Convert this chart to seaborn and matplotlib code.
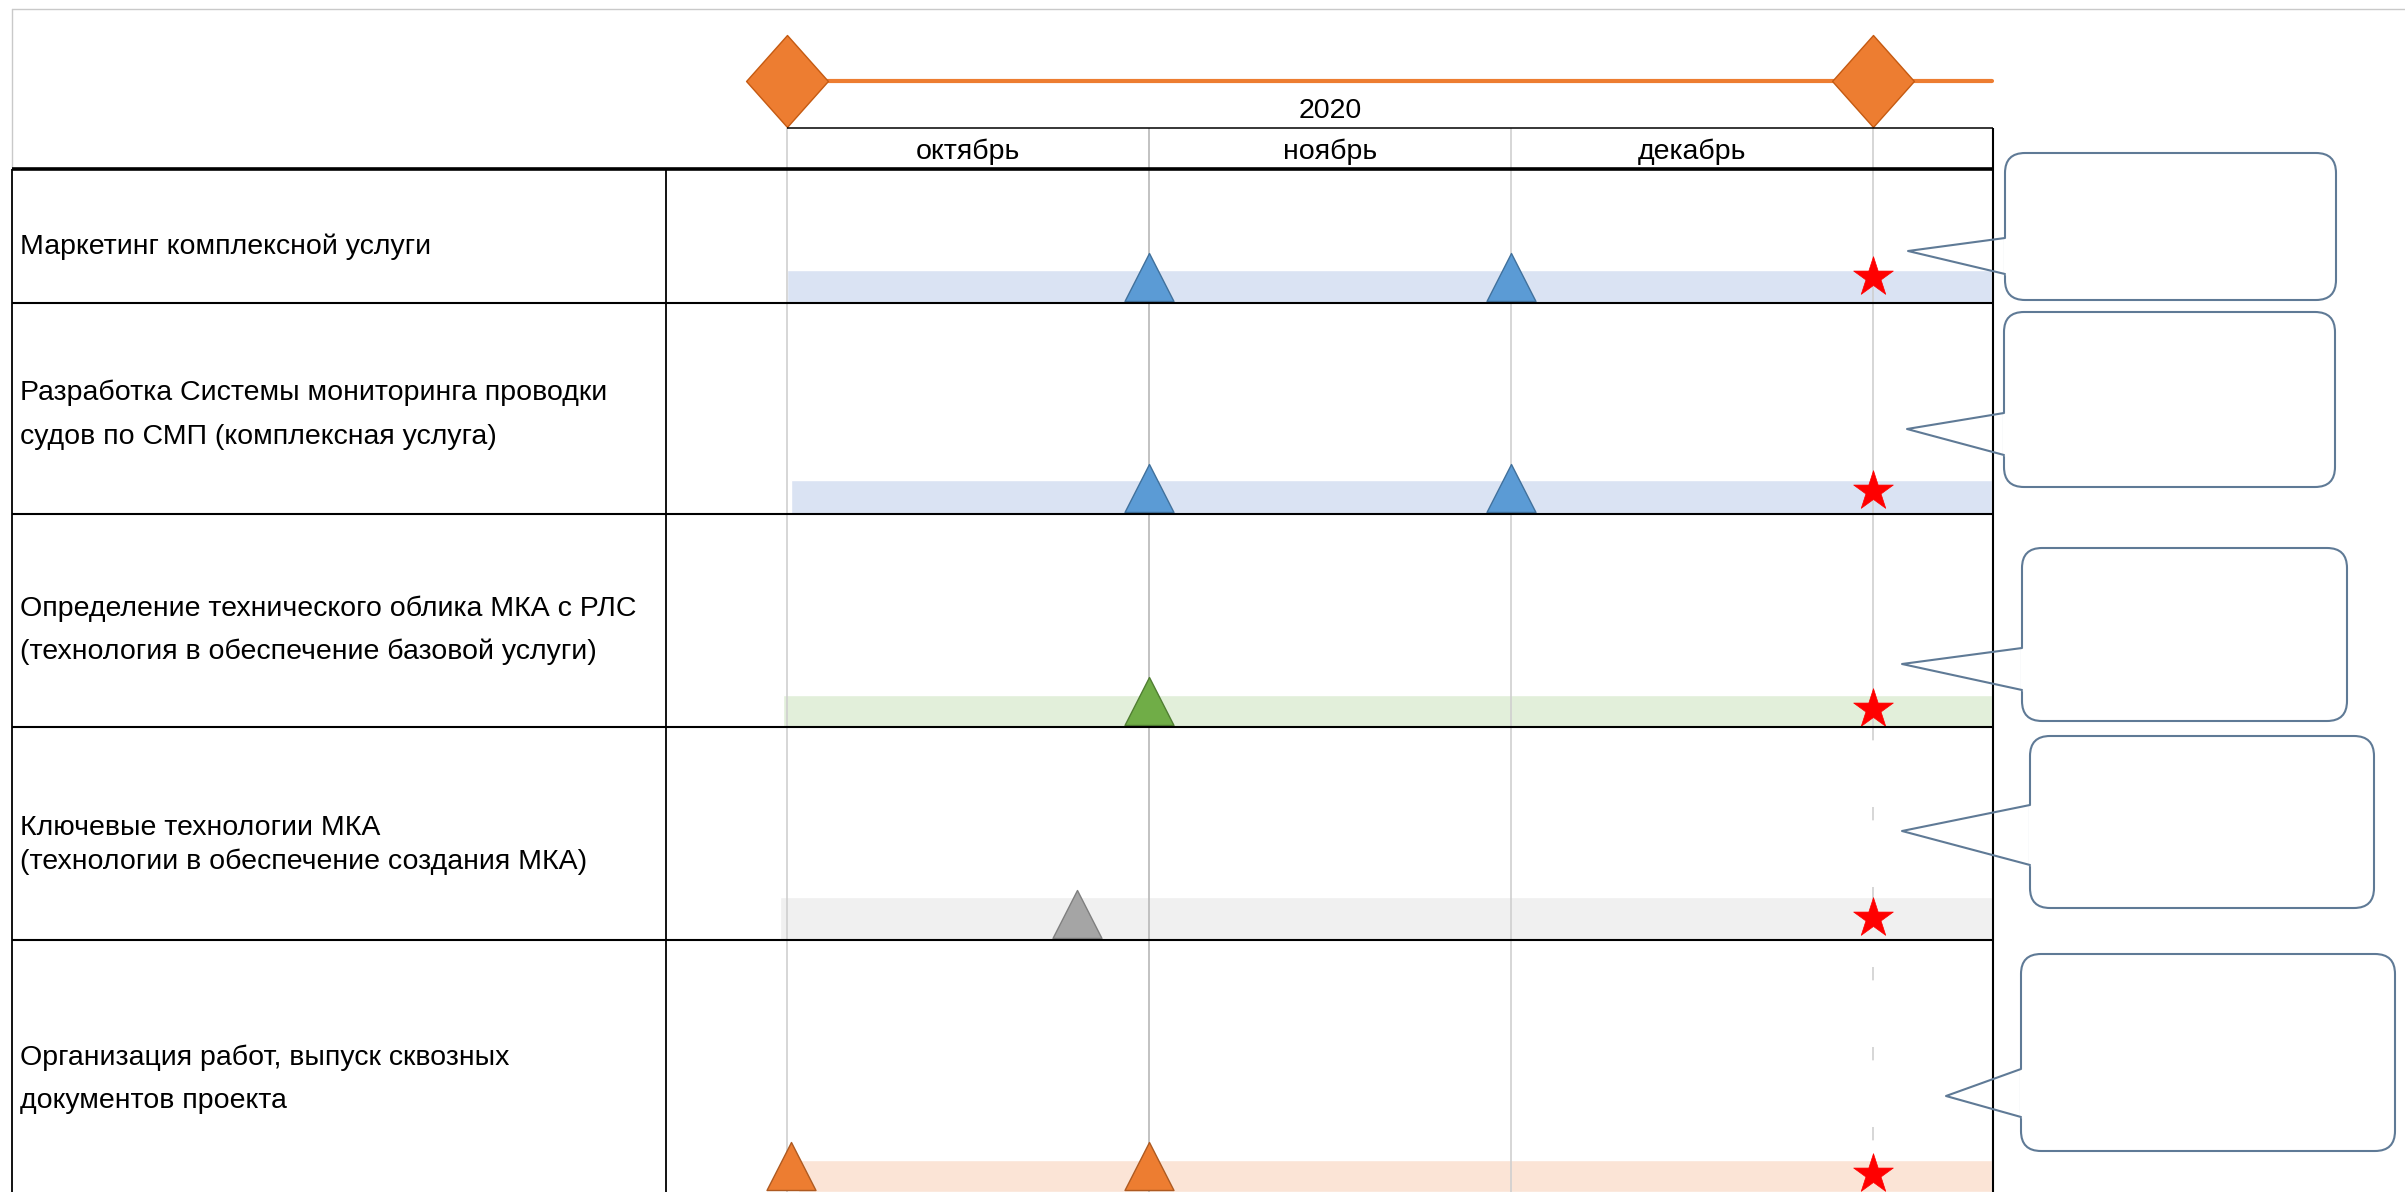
import numpy as np
import pandas as pd
import seaborn as sns
import matplotlib.pyplot as plt
from matplotlib.path import Path
from matplotlib.patches import FancyBboxPatch

# ---- данные графика (время в месяцах от 1 октября 2020) ----
year_label = "2020"
month_names = ["октябрь", "ноябрь", "декабрь"]
month_starts = [0, 1, 2, 3]

task_lines = [
    ["Маркетинг комплексной услуги"],
    ["Разработка Системы мониторинга проводки", "судов по СМП (комплексная услуга)"],
    ["Определение технического облика МКА с РЛС", "(технология в обеспечение базовой услуги)"],
    ["Ключевые технологии МКА", "(технологии в обеспечение создания МКА)"],
    ["Организация работ, выпуск сквозных", "документов проекта"],
]
bar_start = [0.0, 0.01, -0.01, -0.02, 0.03]
bar_end = [3.33, 3.33, 3.33, 3.33, 3.33]
milestone_task = [0, 0, 1, 1, 2, 3, 4, 4]
milestone_month = [1.0, 2.0, 1.0, 2.0, 1.0, 0.8, 0.01, 1.0]
deadline_month = [3.0, 3.0, 3.0, 3.0, 3.0]
phase_points = [0.0, 3.0]
phase_end = 3.33

bar_colors = ["#DAE3F3", "#DAE3F3", "#E2EFDA", "#F0F0F0", "#FBE4D6"]
mark_colors = ["#5B9BD5", "#5B9BD5", "#70AD47", "#A5A5A5", "#ED7D31"]
mark_edges = ["#41719C", "#41719C", "#507E32", "#7F7F7F", "#AE5A21"]

# ---- раскладка в пикселях ----
W, H = 2405, 1192
X0, PX_PER_MONTH = 787, 362
row_top = [169, 303, 514, 727, 940]
row_bot = [303, 514, 727, 940, 1192]
bar_top = [270, 480, 695, 897, 1160]
star_y = [277, 491, 709, 918, 1174]
label_y = [[247], [393, 437], [609, 652], [828, 862], [1058, 1101]]
callouts = [  # x0, y0, x1, y1, tip_x, tip_y, base0, base1
    (2005, 153, 2336, 300, 1908, 251, 238, 274),
    (2004, 312, 2335, 487, 1907, 429, 413, 455),
    (2022, 548, 2347, 721, 1902, 664, 648, 690),
    (2030, 736, 2374, 908, 1902, 831, 805, 865),
    (2021, 954, 2395, 1151, 1946, 1096, 1069, 1117),
]
FS = 20.5

sns.set_theme(style="white")
plt.rcParams["font.family"] = ["Liberation Sans", "DejaVu Sans"]

fig = plt.figure(figsize=(W / 100, H / 100), dpi=100)
ax = fig.add_axes([0, 0, 1, 1])          # данные: x в месяцах, y в пикселях
ax.set_xlim(-X0 / PX_PER_MONTH, (W - X0) / PX_PER_MONTH)
ax.set_ylim(H, 0)
ax.set_axis_off()

frame = fig.add_axes([0, 0, 1, 1], zorder=3)   # таблица и выноски
frame.set_xlim(0, W)
frame.set_ylim(H, 0)
frame.set_axis_off()
frame.patch.set_visible(False)

# полосы задач
for i in range(len(task_lines)):
    h = row_bot[i] - bar_top[i]
    ax.barh(bar_top[i] + h / 2, bar_end[i] - bar_start[i], left=bar_start[i],
            height=h, color=bar_colors[i], zorder=1)

# сетка по месяцам
for m in month_starts[:3]:
    ax.vlines(m, 128, H, color="#B8B8B8" if m == 1 else "#CFCFCF", lw=1.2, zorder=2)
ax.vlines(3, 128, 727, color="#CFCFCF", lw=1.2, zorder=2)
ax.vlines(3, 727, H, color="#CFCFCF", lw=1.2, linestyles=(0, (8, 40)), zorder=2)

# заголовок: фаза и месяцы
ax.plot([phase_points[0], phase_end], [81, 81], color="#ED7D31", lw=3, zorder=3)
diamond = Path([(0, 1), (0.89, 0), (0, -1), (-0.89, 0), (0, 1)], closed=True)
sns.scatterplot(x=phase_points, y=[81] * len(phase_points), marker=diamond, s=4385,
                color="#ED7D31", edgecolor="#C55A11", linewidth=1, ax=ax, zorder=4)
ax.text(1.5, 111, year_label, ha="center", va="center", fontsize=FS, color="black")
for k, name in enumerate(month_names):
    ax.text(month_starts[k] + 0.5, 152, name, ha="center", va="center",
            fontsize=FS, color="black")

# вехи (треугольники) и сроки (звёзды)
tri = Path([(-0.5, 0), (0.5, 0), (0, 0.98), (-0.5, 0)], closed=True)
ms = pd.DataFrame({"task": milestone_task, "month": milestone_month})
ms["y"] = [row_bot[t] - 2 for t in ms["task"]]
for t, grp in ms.groupby("task"):
    sns.scatterplot(data=grp, x="month", y="y", marker=tri, s=4777,
                    color=mark_colors[t], edgecolor=mark_edges[t], linewidth=1,
                    ax=ax, zorder=5)
sns.scatterplot(x=deadline_month, y=star_y, marker="*", s=900, color="#FF0000",
                edgecolor="#FF0000", linewidth=0.5, ax=ax, zorder=6)

# таблица
k = dict(color="black", solid_capstyle="butt")
frame.plot([12, W], [9, 9], color="#C9C9C9", lw=1)
frame.plot([12, 12], [9, 169], color="#C9C9C9", lw=1)
frame.plot([12, 12], [169, H], lw=1.3, **k)
frame.plot([X0, 1993], [128, 128], lw=1.1, **k)
frame.plot([12, 1993], [169, 169], lw=2.6, **k)
frame.plot([1993, 1993], [128, H], lw=1.5, **k)
frame.plot([666, 666], [169, H], lw=1.3, **k)
for y in row_bot[:-1]:
    frame.plot([12, 1993], [y, y], lw=1.5, **k)

for lines, ys in zip(task_lines, label_y):
    for txt, y in zip(lines, ys):
        frame.text(20, y, txt, ha="left", va="center", fontsize=FS, color="black")

# выноски
edge = "#5F7A96"
for x0, y0, x1, y1, tx, ty, b0, b1 in callouts:
    frame.add_patch(FancyBboxPatch((x0, y0), x1 - x0, y1 - y0,
                                   boxstyle="round,pad=0,rounding_size=20",
                                   fc="white", ec=edge, lw=1.5))
    frame.plot([x0, x0], [b0 + 1, b1 - 1], color="white", lw=2.5)
    frame.plot([x0, tx, x0], [b0, ty, b1], color=edge, lw=1.5)

fig.savefig("out.png", dpi=100)
